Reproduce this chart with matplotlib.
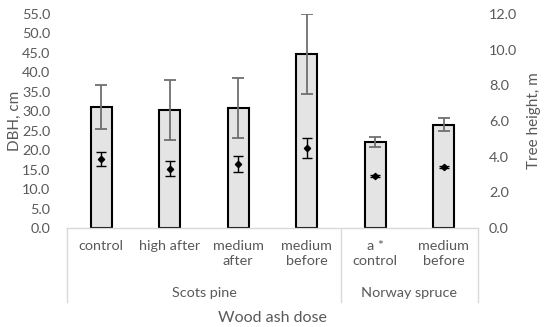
import matplotlib.pyplot as plt
from matplotlib.transforms import blended_transform_factory

# данные
categories = ["control", "high after", "medium\nafter", "medium\nbefore", "a *\ncontrol", "medium\nbefore"]
groups = ["Scots pine", "Norway spruce"]
group_sizes = [4, 2]
dbh = [31.1, 30.3, 30.8, 44.7, 22.1, 26.5]
dbh_sd = [5.7, 7.7, 7.7, 10.2, 1.4, 1.7]
height = [3.87, 3.31, 3.59, 4.49, 2.92, 3.42]
height_sd = [0.39, 0.42, 0.45, 0.56, 0.05, 0.08]

txt = "#595959"
plt.rcParams["font.family"] = ["Lato", "DejaVu Sans"]

fig = plt.figure(figsize=(5.5, 3.27), dpi=100)
ax = fig.add_axes([0.1218, 0.3028, 0.7472, 0.6544])
ax2 = ax.twinx()

x = list(range(len(categories)))
ax.bar(x, dbh, width=0.31, color="#e4e4e4", edgecolor="black", linewidth=1.5, zorder=2)
ax.errorbar(x, dbh, yerr=dbh_sd, fmt="none", ecolor="#6f6f6f", elinewidth=1.3, capsize=4, capthick=1.3, zorder=3)
ax2.errorbar(x, height, yerr=height_sd, fmt="D", color="black", markersize=3.2,
             ecolor="black", elinewidth=1, capsize=3.5, capthick=1, zorder=4)

ax.set_xlim(-0.5, len(categories) - 0.5)
ax.set_ylim(0, 55)
ax2.set_ylim(0, 12)
ax.set_yticks([i * 5 for i in range(12)])
ax2.set_yticks([i * 2 for i in range(7)])
ax.set_yticklabels(["%.1f" % (i * 5) for i in range(12)])
ax2.set_yticklabels(["%.1f" % (i * 2) for i in range(7)])

for a in (ax, ax2):
    for s in a.spines.values():
        s.set_visible(False)
    a.tick_params(axis="y", length=0, labelsize=10.4, labelcolor=txt)
ax.tick_params(axis="y", pad=12)
ax2.tick_params(axis="y", pad=8)
ax.set_xticks(x)
ax.set_xticklabels(categories, fontsize=10.4, color=txt, linespacing=1.25, va="top")
ax.tick_params(axis="x", length=0, pad=9)

ax.set_ylabel("DBH, cm", fontsize=11, color=txt)
ax.yaxis.set_label_coords(-0.11, 0.5)
ax2.set_ylabel("Tree height, m", fontsize=11, color=txt)
ax2.yaxis.set_label_coords(1.12, 0.5)

# ось и разделители групп
tr = blended_transform_factory(ax.transData, ax.transAxes)
ax.plot([-0.5, len(categories) - 0.5], [0, 0], color="#d9d9d9", lw=1, transform=tr, clip_on=False)
start = 0
seps = [-0.5]
for g, n in zip(groups, group_sizes):
    ax.text(start + (n - 1) / 2, -0.305, g, transform=tr, ha="center", va="center", fontsize=10.4, color=txt)
    start += n
    seps.append(start - 0.5)
for s in seps:
    ax.plot([s, s], [0, -0.345], color="#d9d9d9", lw=1, transform=tr, clip_on=False)

ax.text(2.5, -0.42, "Wood ash dose", transform=tr, ha="center", va="center", fontsize=11.5, color=txt)

fig.savefig("out.png", dpi=100)
